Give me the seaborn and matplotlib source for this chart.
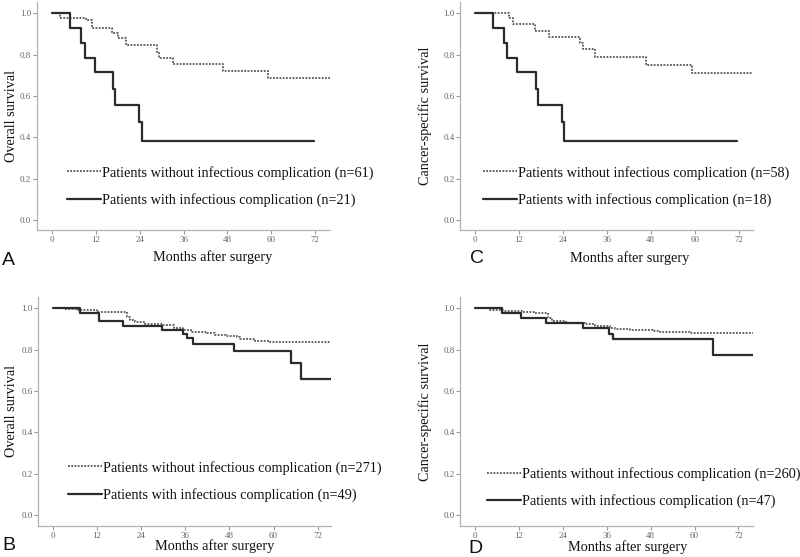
import matplotlib
matplotlib.use("Agg")
import matplotlib.pyplot as plt
import seaborn as sns

# ---------------- data (step points: time in months, survival) ----------------
A_without_t = [0, 2.1, 9.2, 10.8, 16.5, 18.1, 20.2, 28.6, 29.3, 33.0, 46.7, 59.2, 76.0]
A_without_s = [1.0, 0.979, 0.967, 0.930, 0.903, 0.879, 0.847, 0.814, 0.782, 0.755, 0.722, 0.685, 0.685]
A_with_t = [0, 4.85, 8.0, 9.0, 11.7, 16.7, 17.3, 23.8, 24.7, 71.7]
A_with_s = [1.0, 0.929, 0.857, 0.786, 0.714, 0.635, 0.556, 0.476, 0.381, 0.381]

C_without_t = [0, 9.4, 10.5, 16.4, 20.2, 28.7, 29.4, 32.8, 46.8, 59.2, 76.0]
C_without_s = [1.0, 0.976, 0.950, 0.916, 0.887, 0.855, 0.825, 0.790, 0.752, 0.712, 0.712]
C_with_t = [0, 4.8, 8.0, 8.8, 11.4, 16.6, 17.1, 23.7, 24.4, 71.6]
C_with_s = [1.0, 0.929, 0.857, 0.786, 0.714, 0.635, 0.556, 0.476, 0.381, 0.381]

B_without_t = [0, 3, 7, 12, 16, 20.1, 21.0, 22.5, 25.0, 30.0, 33.0, 35.5, 37.7, 41.8,
               44.0, 47.0, 50.0, 50.9, 55.0, 59.0, 75.8]
B_without_s = [1.0, 0.996, 0.992, 0.984, 0.980, 0.956, 0.942, 0.935, 0.924, 0.917, 0.906,
               0.897, 0.887, 0.879, 0.871, 0.867, 0.862, 0.851, 0.844, 0.838, 0.838]
B_with_t = [0, 7.4, 12.7, 19.2, 29.6, 35.3, 36.6, 38.0, 49.3, 64.7, 67.4, 75.5]
B_with_s = [1.0, 0.979, 0.937, 0.914, 0.894, 0.877, 0.854, 0.828, 0.794, 0.734, 0.660, 0.660]

D_without_t = [0, 4.1, 7.7, 13.1, 16, 20.0, 21.0, 25.0, 30.0, 32.8, 36.9, 38.3, 42.3,
               48.7, 50.5, 58.7, 76.0]
D_without_s = [1.0, 0.994, 0.988, 0.982, 0.978, 0.954, 0.940, 0.931, 0.924, 0.915, 0.905,
               0.900, 0.895, 0.889, 0.884, 0.879, 0.879]
D_with_t = [0, 7.3, 12.5, 19.4, 29.6, 36.7, 37.8, 65.0, 75.9]
D_with_s = [1.0, 0.977, 0.953, 0.929, 0.904, 0.878, 0.851, 0.774, 0.774]

x_ticks = [0, 12, 24, 36, 48, 60, 72]
y_ticks = [0.0, 0.2, 0.4, 0.6, 0.8, 1.0]
y_ticklabels = ["0.0", "0.2", "0.4", "0.6", "0.8", "1.0"]

panels = [
    dict(letter="A", ylabel="Overall survival",
         wo=(A_without_t, A_without_s), wi=(A_with_t, A_with_s), n_wo=61, n_wi=21),
    dict(letter="B", ylabel="Overall survival",
         wo=(B_without_t, B_without_s), wi=(B_with_t, B_with_s), n_wo=271, n_wi=49),
    dict(letter="C", ylabel="Cancer-specific survival",
         wo=(C_without_t, C_without_s), wi=(C_with_t, C_with_s), n_wo=58, n_wi=18),
    dict(letter="D", ylabel="Cancer-specific survival",
         wo=(D_without_t, D_without_s), wi=(D_with_t, D_with_s), n_wo=260, n_wi=47),
]

# ---------------- layout (pixel-based) ----------------
W, H = 800, 557
layout = {
    "A": dict(box=(36.7, 230, 293.3, 228.3), xlim=(-4.27, 76.1), ylim=(-0.048, 1.056),
              yl=-0.064, xl=(0.601, -0.088), leg=(4.0, 0.163), let=(2, 265)),
    "B": dict(box=(38.3, 526, 292.7, 229.3), xlim=(-3.9, 75.6), ylim=(-0.053, 1.056),
              yl=-0.069, xl=(0.604, -0.059), leg=(4.2, 0.163), let=(2, 550)),
    "C": dict(box=(460, 230, 293.3, 228.3), xlim=(-4.1, 76.0), ylim=(-0.048, 1.056),
              yl=-0.095, xl=(0.58, -0.092), leg=(2.2, 0.163), let=(470, 263)),
    "D": dict(box=(460, 526, 292.7, 229.3), xlim=(-4.1, 75.9), ylim=(-0.053, 1.056),
              yl=-0.095, xl=(0.571, -0.061), leg=(3.3, 0.133), let=(468, 553)),
}

sns.set_theme(style="white")
plt.rcParams["font.family"] = ["Liberation Serif", "DejaVu Serif"]

fig = plt.figure(figsize=(8.0, 5.57), dpi=100)

FS = 10.3
for p in panels:
    L = layout[p["letter"]]
    x0, yb, w, h = L["box"]
    ax = fig.add_axes([x0 / W, (H - yb) / H, w / W, h / H])
    t1, s1 = p["wo"]
    t2, s2 = p["wi"]
    sns.lineplot(x=t1, y=s1, ax=ax, drawstyle="steps-post", color="#555555",
                 linestyle=(0, (1, 0.8)), linewidth=1.3,
                 label=f"Patients without infectious complication (n={p['n_wo']})")
    sns.lineplot(x=t2, y=s2, ax=ax, drawstyle="steps-post", color="#2b2b2b",
                 linestyle="-", linewidth=1.6,
                 label=f"Patients with infectious complication (n={p['n_wi']})")
    ax.set_xlim(*L["xlim"])
    ax.set_ylim(*L["ylim"])
    ax.set_xticks(x_ticks)
    ax.set_xticklabels([str(v) for v in x_ticks])
    ax.set_yticks(y_ticks)
    ax.set_yticklabels(y_ticklabels)
    for side in ("top", "right"):
        ax.spines[side].set_visible(False)
    for side in ("left", "bottom"):
        ax.spines[side].set_color("#b0b0b0")
        ax.spines[side].set_linewidth(0.9)
    ax.tick_params(axis="both", which="major", direction="out", length=3, width=0.8,
                   color="#999999", labelsize=6.5, labelcolor="#666666", pad=1,
                   bottom=True, left=True)
    ax.set_ylabel(p["ylabel"], fontsize=FS, color="#111111")
    ax.yaxis.set_label_coords(L["yl"], 0.5)
    ax.set_xlabel("Months after surgery", fontsize=FS, color="#111111")
    ax.xaxis.set_label_coords(*L["xl"])
    leg = ax.legend(loc="center left", bbox_to_anchor=L["leg"], bbox_transform=ax.transData,
                    frameon=False, fontsize=FS, handlelength=2.4, handletextpad=0.05,
                    labelspacing=0.95, borderpad=0, borderaxespad=0)
    for txt in leg.get_texts():
        txt.set_color("#111111")
    lx, ly = L["let"]
    fig.text(lx / W, (H - ly) / H, p["letter"], fontsize=14, family="Liberation Sans",
             color="#111111", ha="left", va="baseline")

fig.savefig("out.png", dpi=100, facecolor="white")
